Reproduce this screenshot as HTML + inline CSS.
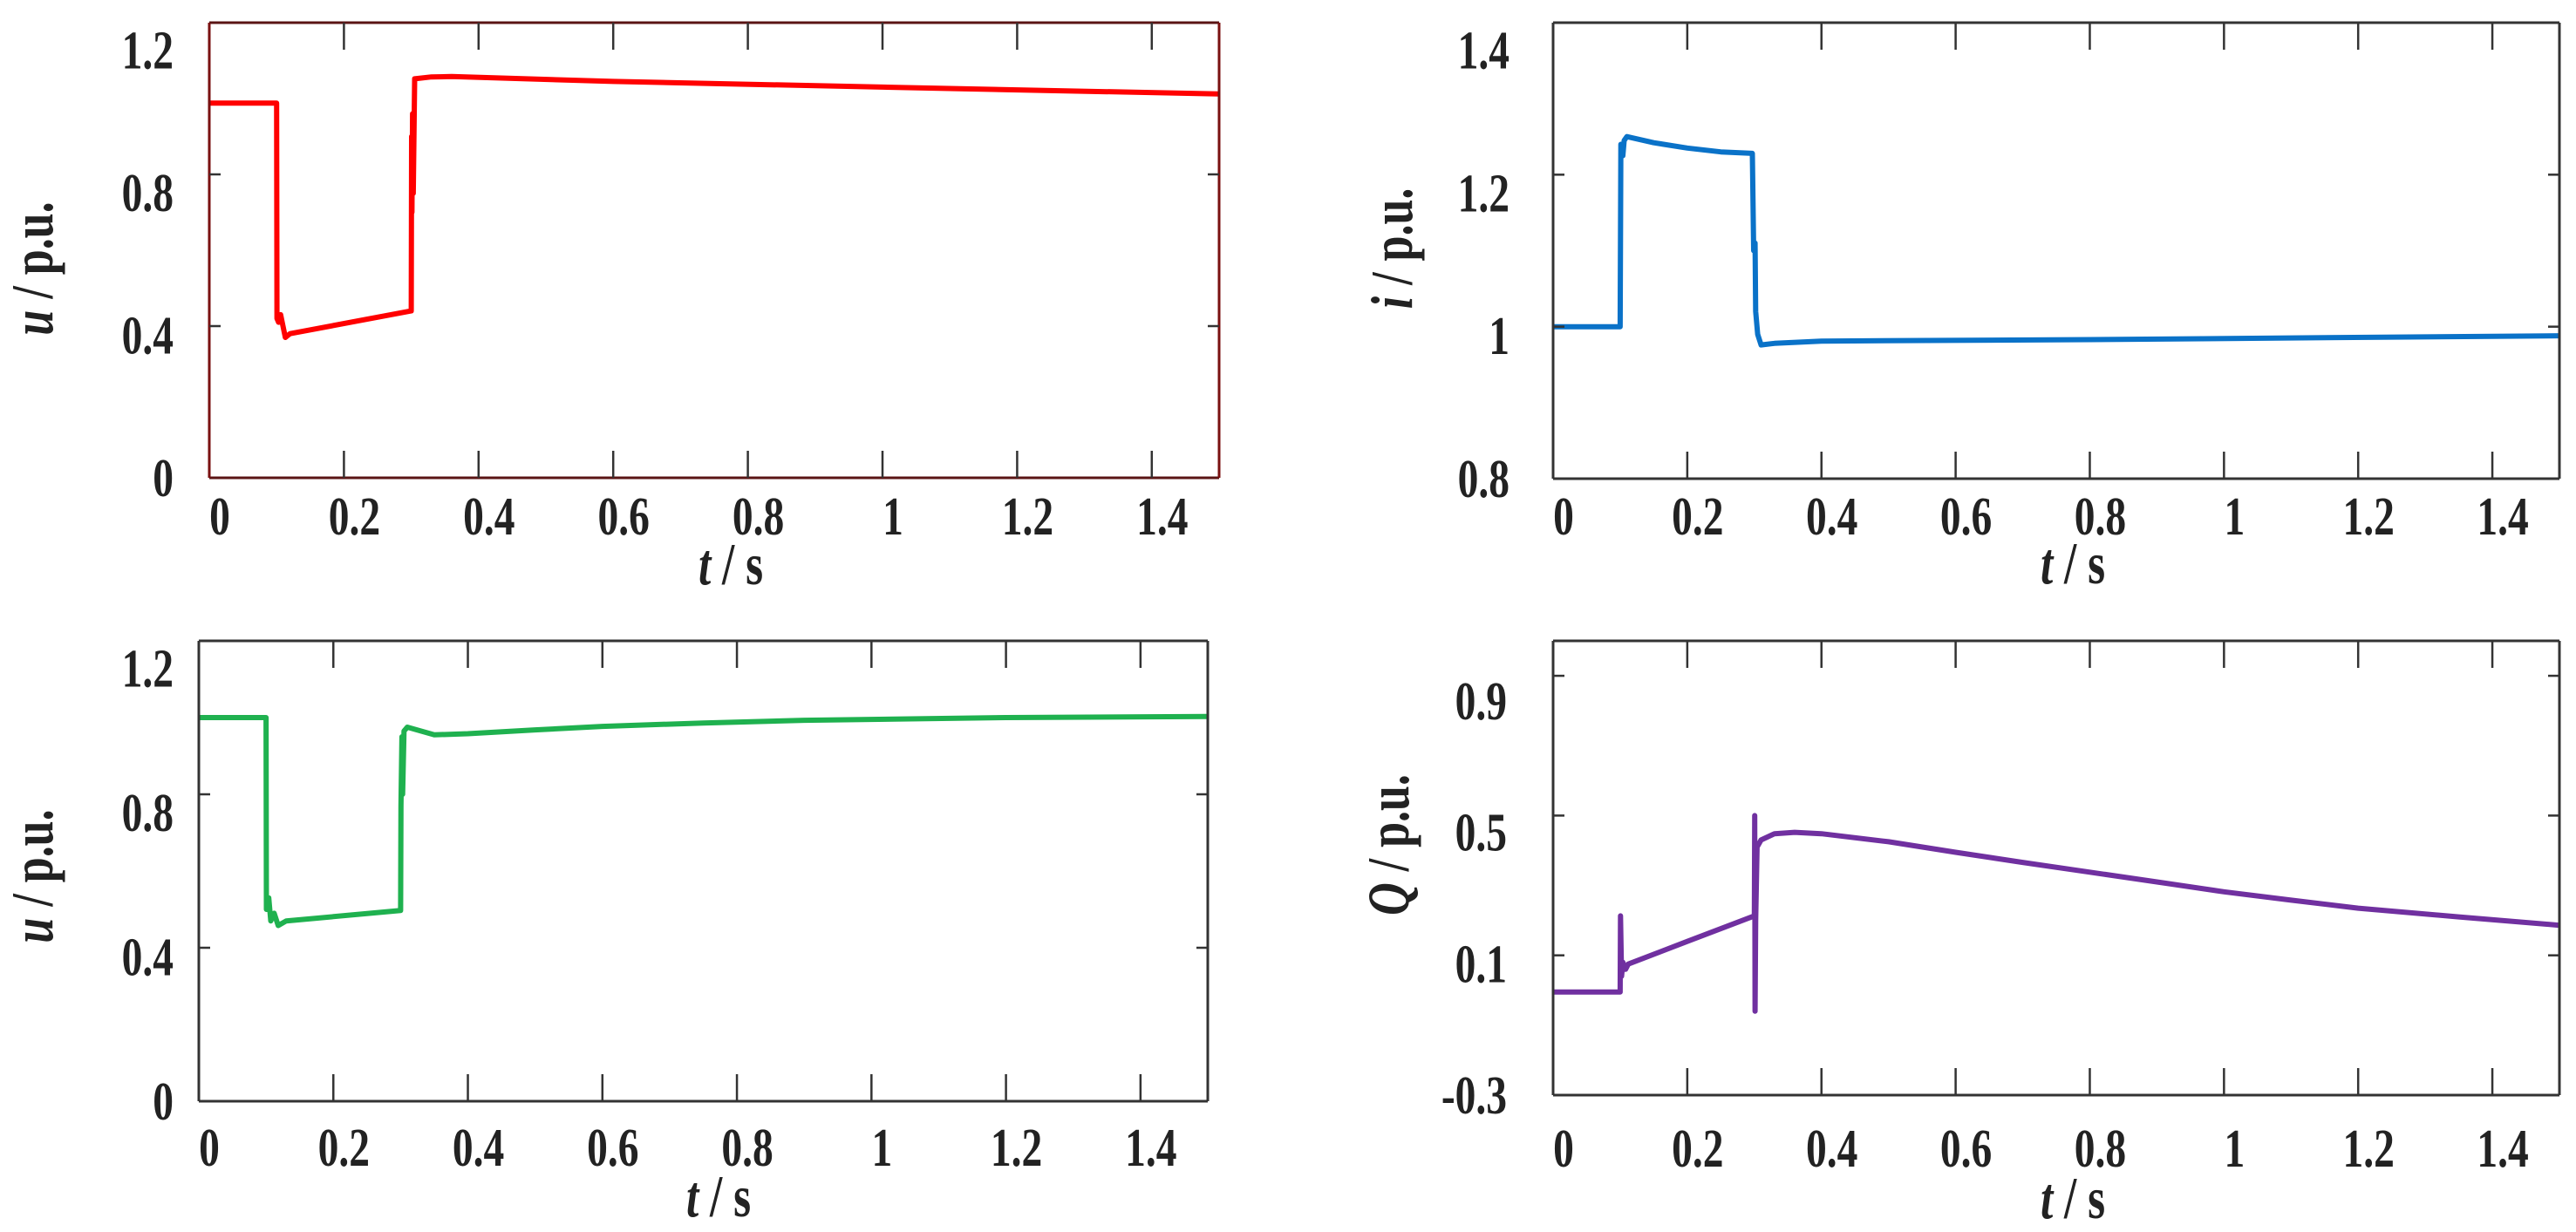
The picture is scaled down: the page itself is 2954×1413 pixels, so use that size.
<!DOCTYPE html>
<html><head><meta charset="utf-8">
<style>
html,body{margin:0;padding:0;background:#fff;}
svg{display:block;}
text{font-family:"Liberation Serif",serif;font-weight:bold;fill:#222;}
</style></head>
<body>
<svg id="fig" width="2954" height="1413" viewBox="0 0 2954 1413" xmlns="http://www.w3.org/2000/svg"></svg>
<script>
// ---- data ----
const xTicks = [0, 0.2, 0.4, 0.6, 0.8, 1, 1.2, 1.4];
const xTickLabels = ["0", "0.2", "0.4", "0.6", "0.8", "1", "1.2", "1.4"];

const t1 = [0, 0.1, 0.1005, 0.103, 0.106, 0.113, 0.12, 0.3, 0.3005, 0.301, 0.302, 0.303, 0.305, 0.33, 0.36, 0.6, 1.0, 1.5];
const u1 = [0.988, 0.988, 0.42, 0.41, 0.43, 0.37, 0.38, 0.44, 0.9, 0.7, 0.96, 0.75, 1.052, 1.057, 1.058, 1.045, 1.03, 1.012];
const yTicks1 = [0, 0.4, 0.8, 1.2];
const yLabels1 = ["0", "0.4", "0.8", "1.2"];

const t2 = [0, 0.1, 0.101, 0.104, 0.106, 0.11, 0.15, 0.2, 0.25, 0.297, 0.299, 0.301, 0.302, 0.305, 0.31, 0.33, 0.4, 0.8, 1.5];
const i2 = [1.0, 1.0, 1.24, 1.225, 1.245, 1.25, 1.242, 1.235, 1.23, 1.228, 1.1, 1.11, 1.02, 0.99, 0.976, 0.978, 0.981, 0.983, 0.988];
const yTicks2 = [0.8, 1, 1.2, 1.4];
const yLabels2 = ["0.8", "1", "1.2", "1.4"];

const t3 = [0, 0.1, 0.1005, 0.104, 0.107, 0.112, 0.118, 0.13, 0.3, 0.3005, 0.302, 0.303, 0.305, 0.31, 0.35, 0.4, 0.5, 0.6, 0.75, 0.9, 1.2, 1.5];
const u3 = [1.0, 1.0, 0.5, 0.53, 0.47, 0.49, 0.458, 0.47, 0.497, 0.77, 0.95, 0.8, 0.965, 0.975, 0.955, 0.958, 0.968, 0.977, 0.986, 0.993, 1.0, 1.003];
const yTicks3 = [0, 0.4, 0.8, 1.2];
const yLabels3 = ["0", "0.4", "0.8", "1.2"];

const t4 = [0, 0.1, 0.1005, 0.102, 0.104, 0.108, 0.112, 0.2, 0.3, 0.3005, 0.301, 0.302, 0.304, 0.31, 0.33, 0.36, 0.4, 0.5, 0.6, 0.7, 0.8, 0.9, 1.0, 1.1, 1.2, 1.35, 1.5];
const q4 = [-0.005, -0.005, 0.213, 0.04, 0.08, 0.06, 0.075, 0.14, 0.213, 0.5, -0.06, 0.2, 0.41, 0.43, 0.448, 0.452, 0.448, 0.425, 0.395, 0.366, 0.338, 0.31, 0.282, 0.258, 0.235, 0.21, 0.186];
const yTicks4 = [-0.3, 0.1, 0.5, 0.9];
const yLabels4 = ["-0.3", "0.1", "0.5", "0.9"];

const NS = "http://www.w3.org/2000/svg";
const svg = document.getElementById("fig");
function mk(tag, attrs, parent){
  const e = document.createElementNS(NS, tag);
  for (const k in attrs) e.setAttribute(k, attrs[k]);
  (parent || svg).appendChild(e);
  return e;
}

const panels = [
  {id:"top-left", L:240, R:1398, T:26, B:548, y0:0, y1:1.2, t:t1, v:u1, yt:yTicks1, yl:yLabels1, color:"#ff0000", frameH:"#5a1414", frameV:"#7a1010", yLabel:"u", ylx:38, yly:308, lblR:199, xlb:610, axx:838, axy:670},
  {id:"top-right", L:1781, R:2935, T:26, B:549, y0:0.8, y1:1.4, t:t2, v:i2, yt:yTicks2, yl:yLabels2, color:"#0a72c8", frameH:"#333", frameV:"#333", yLabel:"i", ylx:1597, yly:285, lblR:1731, xlb:610, axx:2377, axy:669},
  {id:"bottom-left", L:228, R:1385, T:735, B:1263, y0:0, y1:1.2, t:t3, v:u3, yt:yTicks3, yl:yLabels3, color:"#1fb14f", frameH:"#333", frameV:"#333", yLabel:"u", ylx:38, yly:1005, lblR:199, xlb:1334, axx:824, axy:1395},
  {id:"bottom-right", L:1781, R:2935, T:735, B:1256, y0:-0.3, y1:1.0, t:t4, v:q4, yt:yTicks4, yl:yLabels4, color:"#7030a0", frameH:"#333", frameV:"#333", yLabel:"Q", ylx:1593, yly:969, lblR:1728, xlb:1335, axx:2377, axy:1397}
];

panels.forEach(p => {
  const g = mk("g", {});
  
  
  const xs = x => p.L + (x / 1.5) * (p.R - p.L);
  const ys = y => p.B - (y - p.y0) / (p.y1 - p.y0) * (p.B - p.T);

  let d = "";
  p.t.forEach((tv, k) => { d += (k ? "L" : "M") + xs(tv).toFixed(1) + "," + ys(p.v[k]).toFixed(1); });
  const line = mk("path", {d:d, fill:"none", stroke:p.color, "stroke-width":6, "stroke-linejoin":"round"}, g);
  
  

  const top = mk("line", {x1:p.L, y1:p.T, x2:p.R, y2:p.T, stroke:p.frameH, "stroke-width":3}, g);
  
  
  const bot = mk("line", {x1:p.L, y1:p.B, x2:p.R, y2:p.B, stroke:p.frameH, "stroke-width":3}, g);
  
  
  const lft = mk("line", {x1:p.L, y1:p.T, x2:p.L, y2:p.B, stroke:p.frameV, "stroke-width":3}, g);
  
  
  const rgt = mk("line", {x1:p.R, y1:p.T, x2:p.R, y2:p.B, stroke:p.frameV, "stroke-width":3}, g);
  
  

  xTicks.forEach((xv, k) => {
    const X = xs(xv);
    if (xv > 0) {
      const a = mk("line", {x1:X, y1:p.T, x2:X, y2:p.T + 31, stroke:"#333", "stroke-width":2.5}, g);
      
      
      const b = mk("line", {x1:X, y1:p.B, x2:X, y2:p.B - 31, stroke:"#333", "stroke-width":2.5}, g);
      
      
    }
    const tx = mk("text", {x:0, y:0, "font-size":50, "text-anchor":"middle", transform:"translate(" + (X + 12) + "," + (p.xlb + 3) + ") scale(0.95,1.25)"}, g);
    tx.textContent = xTickLabels[k];
    
    
  });

  p.yt.forEach((yv, k) => {
    const Y = ys(yv);
    if (Y > p.T + 5 && Y < p.B - 5) {
      const a = mk("line", {x1:p.L, y1:Y, x2:p.L + 13, y2:Y, stroke:"#333", "stroke-width":2.5}, g);
      
      
      const b = mk("line", {x1:p.R, y1:Y, x2:p.R - 13, y2:Y, stroke:"#333", "stroke-width":2.5}, g);
      
      
    }
    const LY = p.B - (p.B - Y) * 0.94;
    const ty = mk("text", {x:0, y:0, "font-size":50, "text-anchor":"end", transform:"translate(" + p.lblR + "," + (LY + 21) + ") scale(0.95,1.25)"}, g);
    ty.textContent = p.yl[k];
    
    
  });

  const xt = mk("text", {x:0, y:0, "font-size":54, "text-anchor":"middle", transform:"translate(" + p.axx + "," + p.axy + ") scale(0.95,1.25)"}, g);
  xt.innerHTML = '<tspan font-style="italic">t</tspan> / s';
  
  
  const yt = mk("text", {x:0, y:0, "font-size":52, "text-anchor":"middle", transform:"translate(" + (p.ylx + 22) + "," + p.yly + ") rotate(-90) scale(1,1.3)"}, g);
  yt.innerHTML = '<tspan font-style="italic">' + p.yLabel + '</tspan> / p.u.';
  
  
});
</script>
</body></html>
